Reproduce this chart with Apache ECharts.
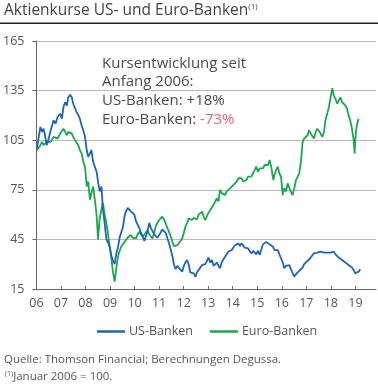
<!DOCTYPE html>
<html><head><meta charset="utf-8">
<script src="https://cdn.jsdelivr.net/npm/echarts@6/dist/echarts.min.js"></script>
<style>html,body{margin:0;padding:0;background:#fff}#c{width:378px;height:387px}</style>
</head><body><div id="c"></div>
<script>
const yearTicks = [2006,2007,2008,2009,2010,2011,2012,2013,2014,2015,2016,2017,2018,2019];
const yTickValues = [15,45,75,105,135,165];

const usTime = [2006.02,2006.16,2006.23,2006.29,2006.35,2006.42,2006.50,2006.58,2006.70,2006.78,2006.86,2006.97,2007.04,2007.10,2007.17,2007.24,2007.30,2007.37,2007.44,2007.50,2007.57,2007.64,2007.71,2007.77,2007.84,2007.91,2007.98,2008.05,2008.11,2008.18,2008.24,2008.31,2008.38,2008.45,2008.51,2008.58,2008.65,2008.71,2008.78,2008.85,2008.92,2008.98,2009.06,2009.12,2009.19,2009.25,2009.32,2009.39,2009.45,2009.52,2009.59,2009.65,2009.72,2009.79,2009.85,2009.92,2009.99,2010.06,2010.12,2010.19,2010.26,2010.33,2010.40,2010.46,2010.53,2010.60,2010.66,2010.73,2010.80,2010.86,2010.93,2011.00,2011.06,2011.13,2011.20,2011.27,2011.33,2011.40,2011.47,2011.54,2011.60,2011.67,2011.74,2011.81,2011.87,2011.94,2012.01,2012.07,2012.14,2012.21,2012.27,2012.34,2012.41,2012.48,2012.54,2012.61,2012.68,2012.75,2012.81,2012.88,2012.95,2013.01,2013.09,2013.15,2013.22,2013.28,2013.35,2013.42,2013.48,2013.55,2013.62,2013.69,2013.75,2013.82,2013.89,2013.96,2014.02,2014.09,2014.16,2014.23,2014.29,2014.36,2014.43,2014.49,2014.56,2014.63,2014.69,2014.76,2014.83,2014.90,2014.96,2015.03,2015.10,2015.17,2015.23,2015.30,2015.37,2015.44,2015.50,2015.57,2015.64,2015.70,2015.77,2015.84,2015.90,2015.97,2016.04,2016.10,2016.17,2016.24,2016.31,2016.37,2016.44,2016.51,2016.58,2016.65,2016.71,2016.78,2016.85,2016.91,2016.98,2017.05,2017.11,2017.18,2017.25,2017.31,2017.38,2017.45,2017.52,2017.58,2017.65,2017.72,2017.78,2017.85,2017.92,2017.99,2018.06,2018.12,2018.19,2018.26,2018.32,2018.39,2018.46,2018.52,2018.59,2018.66,2018.72,2018.79,2018.86,2018.93,2018.99,2019.06,2019.13,2019.20];
const usValues = [100,113,110,112,108,102,106,111,117,115,119,121,118,125,128,126,131,132.5,131,127,126,122,120,118,114,111,107,99,95,97,99,92,91,86,80,74,77,63,55,45,43,41,35,32,30,36,40,46,49,52,59,62,64,64.5,62,61,60,56,55,52,49,47,44,43,50,55,52,51,48,48,46,45,49,51,50,49,46,43,39,35,30,27,29,27.7,28,25.5,29,31,32.5,29.5,25,24,24.5,22.4,25,26.5,28,29.5,29,30,32,34,31,32.5,29,29.5,31,30,27.5,31,33,34.5,35,37.5,36.5,38.6,39.5,41.5,40.5,42.6,41,42.6,41.6,40,41,39.6,38,36.5,38,37.6,36,38,35.6,39,42,42.6,43.5,43.6,42,43,40.6,38.6,39.5,38.5,36,33.6,31,27.5,29,28.5,29.5,27,27,22.5,24,25,26,26.5,28,30,31,32,33,34,33,36.6,36,37,36,37.6,36.5,37,36.5,37,36.8,37,38.2,37.6,36,35.6,34,33.6,32.5,31.5,31,30.5,29.5,28.5,28,26.5,24.5,25.5,25.5,27];

const euTime = [2006.02,2006.16,2006.23,2006.29,2006.35,2006.42,2006.50,2006.58,2006.70,2006.78,2006.86,2006.97,2007.04,2007.10,2007.17,2007.24,2007.30,2007.37,2007.44,2007.50,2007.57,2007.64,2007.71,2007.77,2007.84,2007.91,2007.98,2008.05,2008.11,2008.18,2008.24,2008.31,2008.38,2008.45,2008.51,2008.58,2008.65,2008.71,2008.78,2008.85,2008.92,2008.98,2009.06,2009.12,2009.19,2009.25,2009.32,2009.39,2009.45,2009.52,2009.59,2009.65,2009.72,2009.79,2009.85,2009.92,2009.99,2010.06,2010.12,2010.19,2010.26,2010.33,2010.40,2010.46,2010.53,2010.60,2010.66,2010.73,2010.80,2010.86,2010.93,2011.00,2011.06,2011.13,2011.20,2011.27,2011.33,2011.40,2011.47,2011.54,2011.60,2011.67,2011.74,2011.81,2011.87,2011.94,2012.01,2012.07,2012.14,2012.21,2012.27,2012.34,2012.41,2012.48,2012.54,2012.61,2012.68,2012.75,2012.81,2012.88,2012.95,2013.01,2013.09,2013.15,2013.22,2013.28,2013.35,2013.42,2013.48,2013.55,2013.62,2013.69,2013.75,2013.82,2013.89,2013.96,2014.03,2014.09,2014.16,2014.23,2014.29,2014.36,2014.43,2014.50,2014.56,2014.63,2014.70,2014.76,2014.83,2014.90,2014.96,2015.03,2015.10,2015.17,2015.23,2015.30,2015.37,2015.44,2015.50,2015.57,2015.62,2015.66,2015.70,2015.77,2015.84,2015.90,2015.97,2016.04,2016.10,2016.17,2016.24,2016.31,2016.37,2016.44,2016.51,2016.58,2016.65,2016.71,2016.78,2016.82,2016.85,2016.91,2016.98,2017.05,2017.11,2017.18,2017.25,2017.31,2017.38,2017.45,2017.52,2017.58,2017.65,2017.72,2017.78,2017.85,2017.92,2017.99,2018.06,2018.12,2018.19,2018.26,2018.32,2018.39,2018.46,2018.52,2018.59,2018.66,2018.72,2018.79,2018.86,2018.93,2018.97,2018.99,2019.03,2019.06,2019.13,2019.20];
const euValues = [99,102,104,102,103,104,105,104,107,108,106,109,108,112,110,108,110,111,109,107,105,104,102,99,97,92,89,77,80,69,73,77,69,60,45,58,63,67,60,55,48,41,33,25,19.5,27,34.5,38,40.6,42,43,44.6,46,47,47.7,46,47,45.6,48,49.7,48,46.6,48,49,50.7,48,47,45.6,49,52.7,55,56.7,57,58.7,57,54.7,52,49.7,47,43.6,41,40.6,41.5,42.6,44,45.6,49,52.7,55,57.7,57,56.7,58,59,57,60,60.5,61.8,59,56.7,59,61,62.8,64,66,67,69.8,68,74.9,73,74,71.8,74,75,75.9,77,78,78.9,80,82,82.9,82,80,81,80.9,83,84,83,85,87,89,86,88,87,88,90,91,90,93,89,84,80.9,84,87,89,85,82.9,71.8,76,74,78.9,76,75,71.8,76,80.9,82,85,92,99,104,106,107,108,111,109,108,106,110,112,111,109,107,110,117,121,125,131,136.4,132,130,127,129,131,128,128,126,124,120,117,112,105,97,104,111,114,118];

const blue = '#1f64b8', green = '#19a84c', txt = '#555';
const chart = echarts.init(document.getElementById('c'), null, {renderer:'canvas'});
const pair = (t, v) => t.map((x, i) => [x, v[i]]);
chart.setOption({
  animation: false,
  textStyle: {fontFamily: 'Open Sans'},
  grid: {left: 33, right: 2, top: 41, bottom: 98},
  legend: {
    left: 92, top: 320, itemWidth: 28, itemHeight: 2.5, itemGap: 17, icon: 'rect',
    textStyle: {color: txt, fontSize: 12.5, fontFamily: 'Open Sans', padding: [0,0,0,-1]},
    data: ['US-Banken', 'Euro-Banken']
  },
  xAxis: {
    type: 'value', min: 2006, max: 2019.84,
    axisLine: {lineStyle: {color: '#666', width: 1}},
    axisTick: {customValues: yearTicks, inside: true, length: 3, lineStyle: {color: '#666'}},
    axisLabel: {customValues: yearTicks, color: txt, fontSize: 12.5, margin: 8,
      formatter: v => String(Math.round(v) % 100).padStart(2, '0')},
    splitLine: {show: false}
  },
  yAxis: {
    type: 'value', min: 15, max: 165, interval: 30,
    axisLine: {show: true, lineStyle: {color: '#666', width: 1}},
    axisTick: {show: true, length: 4, lineStyle: {color: '#666'}},
    axisLabel: {color: txt, fontSize: 12.5, margin: 12},
    splitLine: {lineStyle: {color: '#bbb', width: 1}}
  },
  series: [
    {name: 'US-Banken', type: 'line', data: pair(usTime, usValues), showSymbol: false,
      lineStyle: {color: blue, width: 1.8}, itemStyle: {color: blue}, z: 3},
    {name: 'Euro-Banken', type: 'line', data: pair(euTime, euValues), showSymbol: false,
      lineStyle: {color: green, width: 1.8}, itemStyle: {color: green}, z: 2}
  ],
  graphic: [
    {type: 'text', left: 4, top: 3, style: {
      text: '{t|Aktienkurse US- und Euro-Banken}{s|(1)}',
      rich: {t: {fontSize: 15.5, fill: '#444', fontFamily: 'Open Sans'},
             s: {fontSize: 8, fill: '#444', fontFamily: 'Open Sans', verticalAlign: 'top', padding: [0,0,8,0]}}}},
    {type: 'rect', shape: {x: 0, y: 22.5, width: 378, height: 1.5}, style: {fill: '#222'}},
    {type: 'text', left: 102, top: 54, style: {
      text: 'Kursentwicklung seit\nAnfang 2006:\nUS-Banken: +18%\nEuro-Banken: {r|-73%}',
      fill: '#4a4a4a', fontSize: 15, fontFamily: 'Open Sans', lineHeight: 18.7,
      rich: {r: {fill: '#e8607a', fontSize: 15, fontFamily: 'Open Sans', lineHeight: 18.7}}}},
    {type: 'text', left: 4, top: 354, style: {
      text: 'Quelle: Thomson Financial; Berechnungen Degussa.', fill: txt, fontSize: 11.5, fontFamily: 'Open Sans'}},
    {type: 'text', left: 5, top: 370, style: {
      text: '{s|(1)}{t|Januar 2006 = 100.}',
      rich: {t: {fontSize: 11.5, fill: txt, fontFamily: 'Open Sans'},
             s: {fontSize: 7, fill: txt, fontFamily: 'Open Sans', verticalAlign: 'top', padding: [0,0,6,0]}}}}
  ]
});
</script></body></html>
